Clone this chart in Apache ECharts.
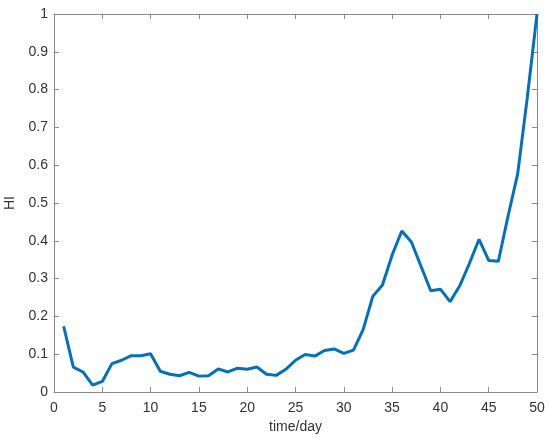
<!DOCTYPE html>
<html>
<head>
<meta charset="utf-8">
<script src="https://cdn.jsdelivr.net/npm/echarts@6/dist/echarts.min.js"></script>
<style>
	html,body{margin:0;padding:0;background:#fff;}
	#chart{width:550px;height:447px;}
</style>
</head>
<body>
<div id="chart"></div>
<script>
	// HI 曲线数据
	var days = [];
	for (var d = 1; d <= 50; d++) days.push(d);
	var hiValues = [
		0.174, 0.066, 0.053, 0.018, 0.028, 0.075, 0.084, 0.096, 0.096, 0.101,
		0.055, 0.047, 0.043, 0.052, 0.042, 0.043, 0.061, 0.053, 0.063, 0.060,
		0.066, 0.047, 0.044, 0.060, 0.084, 0.099, 0.095, 0.110, 0.114, 0.102,
		0.111, 0.165, 0.253, 0.283, 0.362, 0.426, 0.397, 0.332, 0.268, 0.272,
		0.239, 0.281, 0.340, 0.404, 0.348, 0.346, 0.465, 0.577, 0.780, 1.000
	];
	var xTicks = {min: 0, max: 50, interval: 5};
	var yTicks = {min: 0, max: 1, interval: 0.1};

	var seriesData = [];
	for (var i = 0; i < days.length; i++) seriesData.push([days[i], hiValues[i]]);

	var axisGray = '#8a8a8a';
	var textGray = '#333';
	var fontFam = 'Liberation Sans, Arial, sans-serif';

	function boxAxis(pos, ticks) {
		return {
			type: 'value', position: pos, min: ticks.min, max: ticks.max, interval: ticks.interval,
			axisLine: {show: true, onZero: false, lineStyle: {color: axisGray, width: 1}},
			axisTick: {show: true, inside: true, length: 5, lineStyle: {color: axisGray}},
			axisLabel: {show: false},
			splitLine: {show: false}
		};
	}

	var chart = echarts.init(document.getElementById('chart'), null, {renderer: 'canvas'});
	var option = {
		animation: false,
		grid: {left: 54, right: 13, top: 14, bottom: 55, outerBoundsMode: 'none'},
		xAxis: [
			{
				type: 'value', position: 'bottom', min: xTicks.min, max: xTicks.max, interval: xTicks.interval,
				name: 'time/day', nameLocation: 'middle', nameGap: 28,
				nameTextStyle: {color: textGray, fontSize: 14, fontFamily: fontFam},
				axisLine: {show: true, onZero: false, lineStyle: {color: axisGray, width: 1}},
				axisTick: {show: true, inside: true, length: 5, lineStyle: {color: axisGray}},
				axisLabel: {color: textGray, fontSize: 14, fontFamily: fontFam, margin: 9},
				splitLine: {show: false}
			},
			boxAxis('top', xTicks)
		],
		yAxis: [
			{
				type: 'value', position: 'left', min: yTicks.min, max: yTicks.max, interval: yTicks.interval,
				name: 'HI', nameLocation: 'middle', nameGap: 31, nameRotate: 90,
				nameTextStyle: {color: textGray, fontSize: 14, fontFamily: fontFam},
				axisLine: {show: true, onZero: false, lineStyle: {color: axisGray, width: 1}},
				axisTick: {show: true, inside: true, length: 5, lineStyle: {color: axisGray}},
				axisLabel: {color: textGray, fontSize: 14, fontFamily: fontFam, margin: 6},
				splitLine: {show: false}
			},
			boxAxis('right', yTicks)
		],
		series: [{
			name: 'HI',
			type: 'line',
			data: seriesData,
			symbol: 'none',
			smooth: false,
			lineStyle: {color: '#0072BD', width: 3}
		}]
	};
	chart.setOption(option);
</script>
</body>
</html>
